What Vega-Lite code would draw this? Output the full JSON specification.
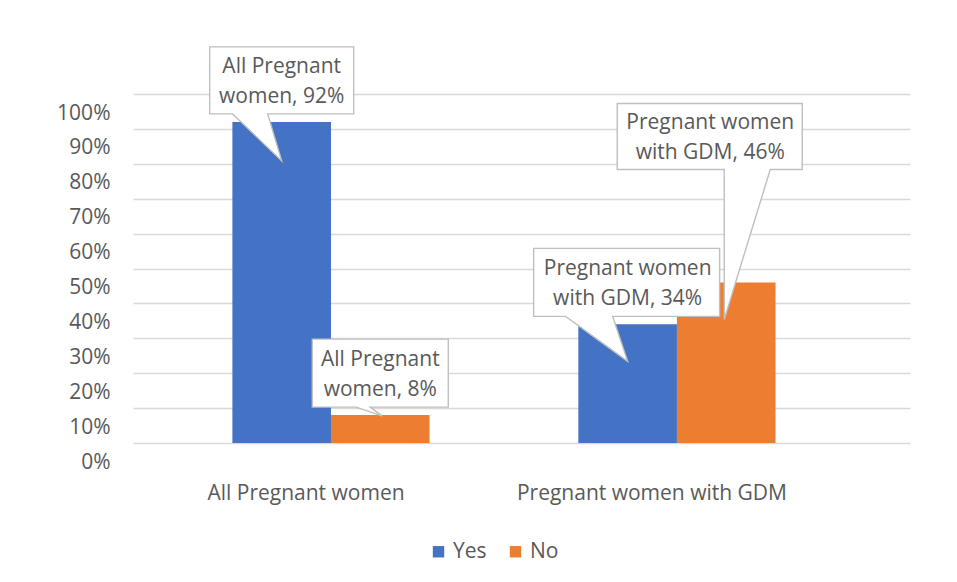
{
  "$schema": "https://vega.github.io/schema/vega-lite/v6.json",
  "autosize": {"type": "none"},
  "padding": {"left": 133, "top": 94, "right": 47, "bottom": 139},
  "width": 777,
  "height": 349,
  "background": "white",
  "data": {
    "values": [
      {"group": "All Pregnant women", "answer": "Yes", "value": 0.92},
      {"group": "All Pregnant women", "answer": "No", "value": 0.08},
      {"group": "Pregnant women with GDM", "answer": "Yes", "value": 0.34},
      {"group": "Pregnant women with GDM", "answer": "No", "value": 0.46}
    ]
  },
  "transform": [
    {"calculate": "datum.group == 'All Pregnant women' ? ['All Pregnant', 'women, ' + format(datum.value, '.0%')] : ['Pregnant women', 'with GDM, ' + format(datum.value, '.0%')]", "as": "label"},
    {"calculate": "datum.group + '|' + datum.answer", "as": "key"}
  ],
  "encoding": {
    "x": {
      "field": "group", "type": "nominal", "sort": null, "title": null,
      "scale": {"paddingInner": 0.43, "paddingOuter": 0.338, "align": 0.425},
      "axis": {"domain": false, "ticks": false, "tickSize": 0, "labelAngle": 0, "labelPadding": 39, "labelOffset": -25, "labelLimit": 0, "labelFontSize": 21, "labelColor": "#595959", "labelFont": "Open Sans"}
    },
    "xOffset": {"field": "answer", "type": "nominal", "sort": ["Yes", "No"], "scale": {"paddingInner": 0, "paddingOuter": 0}},
    "y": {
      "field": "value", "type": "quantitative", "title": null,
      "scale": {"domain": [0, 1]},
      "axis": {"values": [0, 0.1, 0.2, 0.3, 0.4, 0.5, 0.6, 0.7, 0.8, 0.9, 1], "format": ".0%", "domain": false, "ticks": false, "tickSize": 0, "labelPadding": 23, "labelOffset": 19, "labelFontSize": 21, "labelColor": "#595959", "labelFont": "Open Sans", "gridColor": "#D9D9D9", "gridWidth": 1.5}
    }
  },
  "layer": [
    {
      "mark": {"type": "bar"},
      "encoding": {
        "color": {
          "field": "answer", "type": "nominal",
          "scale": {"domain": ["Yes", "No"], "range": ["#4472C4", "#ED7D31"]},
          "legend": {"title": null, "orient": "none", "direction": "horizontal", "legendX": 295, "legendY": 447, "symbolType": "square", "symbolSize": 130, "symbolStrokeWidth": 0, "labelFontSize": 21, "labelColor": "#595959", "labelFont": "Open Sans", "columnPadding": 18, "labelOffset": 4}
        }
      }
    },
    {
      "transform": [{"filter": "datum.key == 'All Pregnant women|Yes'"}],
      "mark": {"type": "point", "filled": true, "fill": "white", "stroke": "#BFBFBF", "strokeWidth": 1.4, "opacity": 1, "size": 4, "shape": "M-72,-75 H72 V-8 H-14 L0,39 L-49,-8 H-72 Z"}
    },
    {
      "transform": [{"filter": "datum.key == 'All Pregnant women|No'"}],
      "mark": {"type": "point", "filled": true, "fill": "white", "stroke": "#BFBFBF", "strokeWidth": 1.4, "opacity": 1, "size": 4, "shape": "M-68,-76 H68 V-8 H-10 L2,1 L-24,-8 H-68 Z"}
    },
    {
      "transform": [{"filter": "datum.key == 'Pregnant women with GDM|Yes'"}],
      "mark": {"type": "point", "filled": true, "fill": "white", "stroke": "#BFBFBF", "strokeWidth": 1.4, "opacity": 1, "size": 4, "shape": "M-94,-76 H92 V-8 H-15 L0,37 L-62,-8 H-94 Z"}
    },
    {
      "transform": [{"filter": "datum.key == 'Pregnant women with GDM|No'"}],
      "mark": {"type": "point", "filled": true, "fill": "white", "stroke": "#BFBFBF", "strokeWidth": 1.4, "opacity": 1, "size": 4, "shape": "M-109,-179 H76 V-113 H44 L-2,37 L-2,-113 H-109 Z"}
    },
    {
      "transform": [{"filter": "datum.key != 'Pregnant women with GDM|No'"}],
      "mark": {"type": "text", "font": "Open Sans", "fontSize": 21, "color": "#595959", "baseline": "middle", "align": "center", "lineHeight": 30, "dy": -55},
      "encoding": {"text": {"field": "label"}}
    },
    {
      "transform": [{"filter": "datum.key == 'Pregnant women with GDM|No'"}],
      "mark": {"type": "text", "font": "Open Sans", "fontSize": 21, "color": "#595959", "baseline": "middle", "align": "center", "lineHeight": 30, "dx": -16, "dy": -159},
      "encoding": {"text": {"field": "label"}}
    }
  ],
  "config": {
    "view": {"stroke": null},
    "font": "Open Sans"
  }
}
